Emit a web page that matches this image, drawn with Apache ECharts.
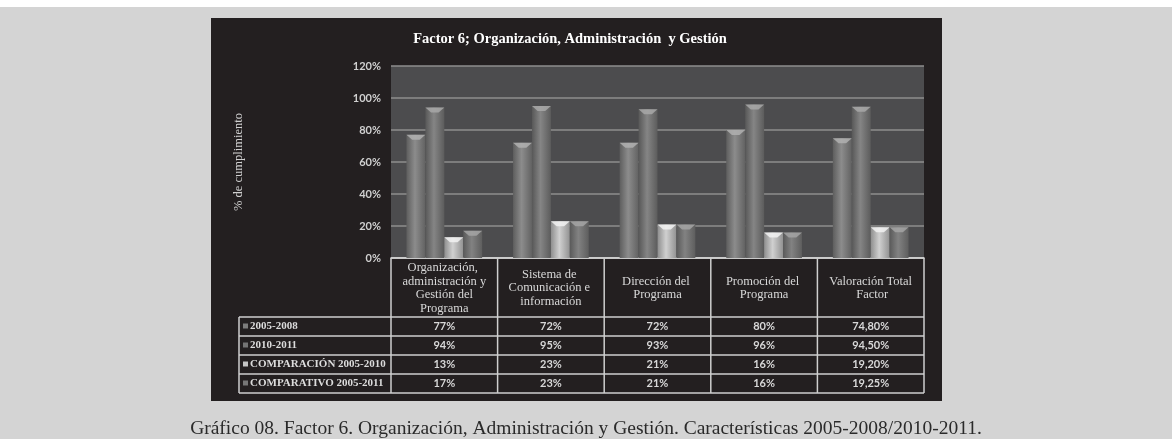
<!DOCTYPE html>
<html><head><meta charset="utf-8">
<script src="https://cdn.jsdelivr.net/npm/echarts@6/dist/echarts.min.js"></script>
<style>html,body{margin:0;padding:0;background:#d4d4d4;} #c{width:1172px;height:439px;}</style>
</head><body><div id="c"></div>
<script>
// ---- data ----
const categories = ['Organización, administración y Gestión del Programa','Sistema de Comunicación e información','Dirección del Programa','Promoción del Programa','Valoración Total Factor'];
const seriesNames = ['2005-2008','2010-2011','COMPARACIÓN 2005-2010','COMPARATIVO 2005-2011'];
const s2005_2008 = [77, 72, 72, 80, 74.8];
const s2010_2011 = [94, 95, 93, 96, 94.5];
const comparacion = [13, 23, 21, 16, 19.2];
const comparativo = [17, 23, 21, 16, 19.25];
const yTicks = [0, 20, 40, 60, 80, 100, 120];
const titleText = 'Factor 6; Organización, Administración  y Gestión';
const yAxisTitle = '% de cumplimiento';
const captionText = 'Gráfico 08. Factor 6. Organización, Administración y Gestión. Características 2005-2008/2010-2011.';

const seriesData = [s2005_2008, s2010_2011, comparacion, comparativo];
const barColors = [
  ['#5e5e5e', '#8c8c8c', '#626262'],
  ['#585858', '#858585', '#5c5c5c'],
  ['#8e8e8e', '#d0d0d0', '#929292'],
  ['#5a5a5a', '#828282', '#5e5e5e']
];
const capColors = ['#b0b0b0', '#a8a8a8', '#f2f2f2', '#a4a4a4'];
const swatchColors = ['#7c7c7c', '#747474', '#c4c4c4', '#767676'];

function fmt(v){ return Number.isInteger(v) ? v + '%' : v.toFixed(2).replace('.', ',') + '%'; }

const grad = c => new echarts.graphic.LinearGradient(0,0,1,0,[{offset:0,color:c[0]},{offset:0.45,color:c[1]},{offset:1,color:c[2]}]);

const series = [];
seriesData.forEach((d, i) => {
  series.push({
    type: 'bar', name: seriesNames[i], data: d,
    barGap: '0%', barCategoryGap: '29%',
    itemStyle: { color: grad(barColors[i]) },
    z: 2
  });
});
seriesData.forEach((d, i) => {
  series.push({
    type: 'pictorialBar', name: seriesNames[i] + ' cap', data: d,
    barGap: '0%', barCategoryGap: '29%',
    symbol: 'path://M0,0 L20,0 L14,6 L6,6 Z',
    symbolSize: ['100%', 5],
    symbolPosition: 'end',
    itemStyle: { color: capColors[i], opacity: 0.85 },
    z: 3, silent: true
  });
});

const option = {
  animation: false,
  grid: { left: 391, right: 248, top: 66, bottom: 181, show: true, backgroundColor: '#4c4c4e', borderWidth: 0 },
  xAxis: {
    type: 'category', data: categories,
    axisLine: { show: true, lineStyle: { color: '#e6e6e6', width: 1.5 } },
    axisTick: { show: false },
    axisLabel: {
      interval: 0, margin: 30, verticalAlign: 'middle', width: 92, overflow: 'break',
      lineHeight: 13.5, fontFamily: 'Liberation Serif', fontSize: 12.5, color: '#d8d8d8', align: 'center'
    }
  },
  yAxis: {
    type: 'value', min: yTicks[0], max: yTicks[yTicks.length-1], interval: yTicks[1]-yTicks[0],
    name: yAxisTitle, nameLocation: 'middle', nameGap: 146, nameRotate: 90,
    nameTextStyle: { fontFamily: 'Liberation Serif', fontSize: 12.5, color: '#d0d0d0' },
    axisLine: { show: false }, axisTick: { show: false },
    axisLabel: { formatter: '{value}%', margin: 10, fontFamily: 'Lato', fontWeight: 'bold', fontSize: 11, color: '#d0d0d0' },
    splitLine: { lineStyle: { color: '#8e8e8e', width: 1.5 } }
  },
  series: series,
  graphic: [
    { type: 'rect', z: -100, shape: { x: 0, y: 0, width: 1172, height: 7 }, style: { fill: '#ffffff' } },
    { type: 'rect', z: -100, shape: { x: 211, y: 18, width: 731, height: 383 }, style: { fill: '#231f20' } },
    { type: 'text', z: 10, style: { text: titleText, x: 570, y: 39.5, textAlign: 'center', textVerticalAlign: 'middle', font: 'bold 14.5px "Liberation Serif"', fill: '#ffffff' } },
    { type: 'text', z: 10, style: { text: captionText, x: 586, y: 429, textAlign: 'center', textVerticalAlign: 'middle', font: '19.5px "Liberation Serif"', fill: '#2a2a2a' } }
  ]
};

const chart = echarts.init(document.getElementById('c'));
chart.setOption(option);

function buildTable(){
  const xa = chart.convertToPixel({xAxisIndex:0}, 0);
  const xb = chart.convertToPixel({xAxisIndex:0}, 1);
  const bw = xb - xa;
  const colLeft = xa - bw/2;
  const colRight = colLeft + bw * categories.length;
  const top = chart.convertToPixel({yAxisIndex:0}, 0);
  const headerBottom = top + 59;
  const rowH = 19;
  const labelLeft = 239;
  const lineCol = '#cfcfcf';
  const els = [];
  const line = (x1,y1,x2,y2) => els.push({ type:'line', z: 10, shape:{x1,y1,x2,y2}, style:{ stroke: lineCol, lineWidth: 1.5 } });
  for (let i = 0; i <= categories.length; i++) {
    const x = colLeft + bw * i;
    line(x, top, x, headerBottom + rowH * seriesNames.length);
  }
  line(labelLeft, headerBottom, labelLeft, headerBottom + rowH * seriesNames.length);
  for (let r = 0; r <= seriesNames.length; r++) {
    const y = headerBottom + rowH * r;
    line(labelLeft, y, colRight, y);
  }
  seriesNames.forEach((name, r) => {
    const cy = headerBottom + rowH * r + rowH/2;
    els.push({ type:'rect', z: 10, shape:{ x: labelLeft + 4, y: cy - 3, width: 5, height: 5 }, style:{ fill: swatchColors[r] } });
    els.push({ type:'text', z: 10, style:{ text: name, x: labelLeft + 11, y: cy, textAlign:'left', textVerticalAlign:'middle', font:'bold 11px "Liberation Serif"', fill:'#dcdcdc' } });
    seriesData[r].forEach((v, c) => {
      els.push({ type:'text', z: 10, style:{ text: fmt(v), x: colLeft + bw * c + bw/2, y: cy, textAlign:'center', textVerticalAlign:'middle', font:'bold 11px Lato', fill:'#d8d8d8' } });
    });
  });
  chart.setOption({ graphic: option.graphic.concat(els) });
}
buildTable();
</script>
</body></html>
